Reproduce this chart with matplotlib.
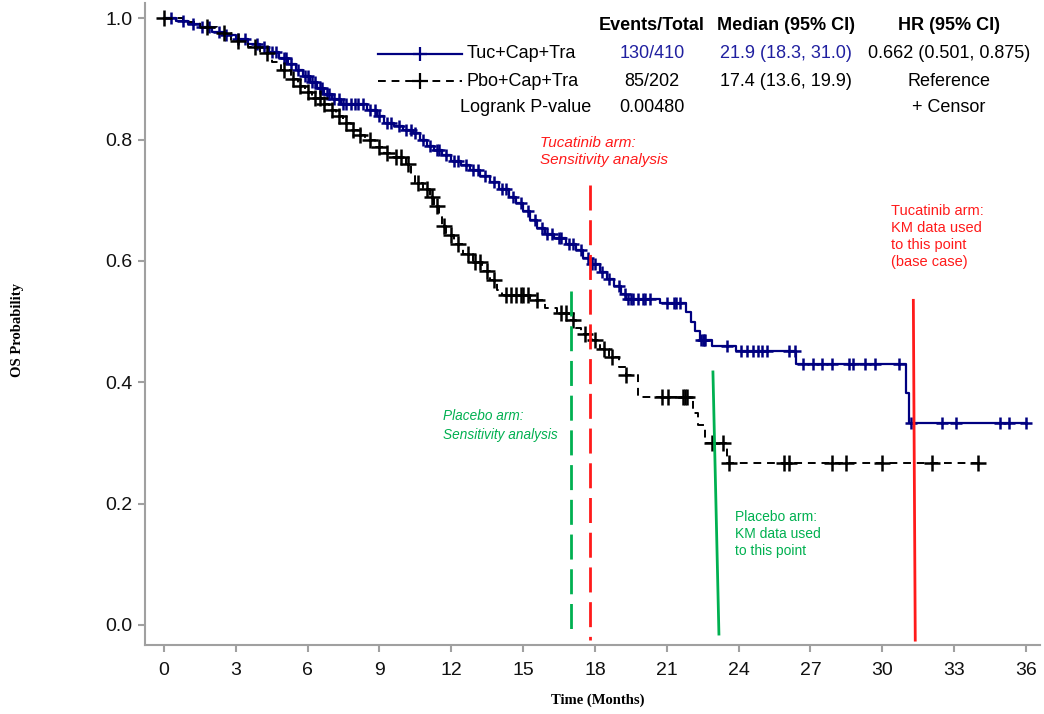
import numpy as np
import matplotlib
matplotlib.use("Agg")
import matplotlib.pyplot as plt
from matplotlib.lines import Line2D

# ---------------- data ----------------
tuc_times = [0, 0.5, 1.0, 1.5, 2.0, 2.5, 3.0, 3.5, 4.0, 4.4, 4.8, 5.2, 5.5, 5.8, 6.1, 6.4, 6.7, 7.0, 7.4,
             8.5, 8.9, 9.2, 9.6, 10.0, 10.4, 10.7, 11.0, 11.3, 11.6, 12.0, 12.4, 12.8, 13.2, 13.6, 14.0,
             14.4, 14.7, 15.0, 15.3, 15.6, 15.9, 16.3, 16.8, 17.2, 17.5, 17.8, 18.2, 18.5, 18.8, 19.1, 19.3,
             20.7, 21.8, 22.0, 22.2, 22.4, 22.9, 23.9, 26.4, 31.0, 31.1]
tuc_surv = [1.0, 0.995, 0.99, 0.985, 0.978, 0.972, 0.965, 0.958, 0.952, 0.945, 0.935, 0.925, 0.915, 0.905,
            0.895, 0.885, 0.875, 0.866, 0.858, 0.848, 0.838, 0.828, 0.822, 0.815, 0.810, 0.800, 0.790, 0.782,
            0.774, 0.765, 0.758, 0.750, 0.740, 0.730, 0.718, 0.705, 0.695, 0.682, 0.668, 0.655, 0.645, 0.638,
            0.628, 0.618, 0.605, 0.595, 0.582, 0.570, 0.558, 0.545, 0.537, 0.530, 0.515, 0.500, 0.484, 0.470,
            0.460, 0.451, 0.430, 0.382, 0.333]
tuc_end = 36.0
tuc_censor = [0.3, 0.8, 1.2, 1.6, 1.9, 2.3, 2.6, 3.1, 3.4, 3.9, 4.2, 4.5, 4.7, 5.0, 5.1, 5.3, 5.6, 5.9, 6.0,
              6.2, 6.3, 6.5, 6.6, 6.8, 6.9, 7.1, 7.3, 7.5, 7.6, 7.8, 8.0, 8.1, 8.3, 8.6, 8.8, 9.0, 9.3, 9.5,
              9.8, 10.1, 10.3, 10.5, 10.8, 11.1, 11.4, 11.5, 11.8, 12.1, 12.3, 12.6, 12.9, 13.1, 13.4, 13.8,
              14.1, 14.3, 14.6, 14.9, 15.2, 15.5, 15.8, 16.0, 16.2, 16.5, 16.6, 16.9, 17.1, 17.4, 17.7, 17.9,
              18.0, 18.3, 18.6, 19.0, 19.25, 19.4, 19.5, 19.6, 19.8, 20.0, 20.1, 20.3, 21.0, 21.3, 21.4, 21.55,
              22.45, 22.5, 22.55, 22.6, 23.5, 24.1, 24.35, 24.6, 24.8, 25.0, 25.2, 26.1, 26.35, 26.7, 27.1,
              27.5, 27.9, 28.6, 28.8, 29.3, 29.7, 30.7, 31.2, 32.5, 33.1, 34.9, 35.3, 36.0]

pbo_times = [0, 0.8, 1.5, 2.2, 2.8, 3.5, 4.0, 4.5, 4.9, 5.3, 5.6, 5.9, 6.2, 6.6, 6.9, 7.2, 7.5, 7.8, 8.1, 8.4,
             8.8, 9.2, 9.5, 10.1, 10.3, 10.5, 10.8, 11.1, 11.3, 11.5, 11.6, 11.8, 12.1, 12.5, 12.9, 13.3, 13.6,
             13.9, 14.1, 15.3, 15.9, 16.4, 16.9, 17.2, 17.4, 17.9, 18.2, 18.6, 19.0, 19.3, 19.8, 22.1, 22.3,
             22.6, 23.5]
pbo_surv = [1.0, 0.993, 0.985, 0.975, 0.962, 0.952, 0.942, 0.928, 0.914, 0.900, 0.888, 0.878, 0.868, 0.858,
            0.848, 0.838, 0.828, 0.815, 0.808, 0.800, 0.788, 0.778, 0.772, 0.760, 0.740, 0.728, 0.718, 0.705,
            0.690, 0.672, 0.658, 0.643, 0.628, 0.612, 0.598, 0.583, 0.568, 0.552, 0.544, 0.535, 0.522, 0.514,
            0.503, 0.490, 0.480, 0.470, 0.455, 0.442, 0.425, 0.412, 0.376, 0.350, 0.330, 0.300, 0.267]
pbo_end = 34.0
pbo_censor = [0.0, 1.8, 2.5, 3.1, 3.8, 4.3, 5.0, 5.4, 5.7, 6.0, 6.3, 6.5, 6.7, 7.0, 7.3, 7.6, 7.9, 8.2, 8.6,
              9.0, 9.3, 9.7, 9.9, 10.2, 10.6, 11.0, 11.2, 11.4, 11.7, 12.0, 12.3, 12.7, 13.0, 13.2, 13.5, 13.8,
              14.3, 14.5, 14.7, 14.9, 15.0, 15.2, 15.6, 16.6, 16.8, 17.1, 17.6, 18.0, 18.4, 18.7, 19.3, 20.8,
              21.05, 21.7, 21.75, 21.85, 22.9, 23.35, 23.6, 25.9, 26.1, 27.9, 28.5, 30.0, 32.1, 34.0]

x_ticks = [0, 3, 6, 9, 12, 15, 18, 21, 24, 27, 30, 33, 36]
y_ticks = [0.0, 0.2, 0.4, 0.6, 0.8, 1.0]

headers = ["Events/Total", "Median (95% CI)", "HR (95% CI)"]
arm_labels = ["Tuc+Cap+Tra", "Pbo+Cap+Tra"]
events = ["130/410", "85/202"]
medians = ["21.9 (18.3, 31.0)", "17.4 (13.6, 19.9)"]
hrs = ["0.662 (0.501, 0.875)", "Reference"]
logrank_p = "0.00480"

# ---------------- style ----------------
BLUE = "#000080"
RED = "#FF1A1A"
GREEN = "#00B050"
GRAY = "#A0A0A0"
plt.rcParams['font.family'] = ['Liberation Sans', 'DejaVu Sans']

fig = plt.figure(figsize=(10.44, 7.14), dpi=100)
W, H = 1044, 714
ax = fig.add_axes([145 / W, 1 - 645 / H, (1040 - 145) / W, (645 - 3) / H])


def surv_at(times, surv, t):
    idx = np.searchsorted(np.asarray(times), t, side='right') - 1
    return np.asarray(surv)[idx]


# Tucatinib curve
tt = list(tuc_times) + [tuc_end]
ss = list(tuc_surv) + [tuc_surv[-1]]
ax.step(tt, ss, where='post', color=BLUE, lw=1.6, zorder=3)
ax.plot(tuc_censor, surv_at(tuc_times, tuc_surv, tuc_censor), ls='none', marker='+',
        ms=8, mew=1.8, color=BLUE, zorder=4)

# Placebo curve
tp = list(pbo_times) + [pbo_end]
sp = list(pbo_surv) + [pbo_surv[-1]]
ax.step(tp, sp, where='post', color='black', lw=1.4, ls=(0, (4, 3)), zorder=3)
ax.plot(pbo_censor, surv_at(pbo_times, pbo_surv, pbo_censor), ls='none', marker='+',
        ms=11, mew=1.8, color='black', zorder=4)

# vertical reference lines
ax.plot([17.0, 17.0], [0.55, -0.015], color=GREEN, lw=2, ls=(0, (9, 3.5)), zorder=5)
ax.plot([17.8, 17.8], [0.725, -0.025], color=RED, lw=2, ls=(0, (9, 3.5)), zorder=5)
ax.plot([22.93, 23.18], [0.417, -0.015], color=GREEN, lw=2, zorder=5)
ax.plot([31.3, 31.38], [0.535, -0.025], color=RED, lw=2, zorder=5)

# annotations
ax.text(15.7, 0.806, "Tucatinib arm:\nSensitivity analysis", color=RED, style='italic',
        fontsize=11, va='top', ha='left', linespacing=1.3)
ax.text(30.35, 0.693, "Tucatinib arm:\nKM data used\nto this point\n(base case)", color=RED,
        fontsize=10.5, va='top', ha='left', linespacing=1.25)
ax.text(11.65, 0.356, "Placebo arm:\nSensitivity analysis", color=GREEN, style='italic',
        fontsize=9.8, va='top', ha='left', linespacing=1.45)
ax.text(23.85, 0.19, "Placebo arm:\nKM data used\nto this point", color=GREEN,
        fontsize=10, va='top', ha='left', linespacing=1.3)

# axes formatting
ax.set_xlim(-0.79, 36.59)
ax.set_ylim(-0.033, 1.025)
ax.set_xticks(x_ticks)
ax.set_xticklabels([str(v) for v in x_ticks])
ax.set_yticks(y_ticks)
ax.set_yticklabels([f"{v:.1f}" for v in y_ticks])
for s in ['top', 'right']:
    ax.spines[s].set_visible(False)
for s in ['left', 'bottom']:
    ax.spines[s].set_color(GRAY)
    ax.spines[s].set_linewidth(1.5)
ax.tick_params(axis='both', colors=GRAY, length=5, width=1.5, labelcolor='#111111', labelsize=14)
ax.tick_params(axis='x', pad=7)
ax.tick_params(axis='y', pad=4)

fig.text(598 / W, 1 - 700 / H, "Time (Months)", family='Liberation Serif', weight='bold',
         fontsize=10.5, ha='center', va='center')
fig.text(18 / W, 1 - 330 / H, "OS Probability", family='Liberation Serif', weight='bold',
         fontsize=10.5, ha='center', va='center', rotation=90)

# legend table
def ft(x, y, s, **kw):
    fig.text(x / W, 1 - y / H, s, va='center', fontsize=13, **kw)

ft(652, 26, headers[0], ha='center', weight='bold')
ft(786, 26, headers[1], ha='center', weight='bold')
ft(949, 26, headers[2], ha='center', weight='bold')

ft(467, 54, arm_labels[0], ha='left')
ft(652, 54, events[0], ha='center', color='#2020A0')
ft(786, 54, medians[0], ha='center', color='#2020A0')
ft(949, 54, hrs[0], ha='center')

ft(467, 81, arm_labels[1], ha='left')
ft(652, 81, events[1], ha='center')
ft(786, 81, medians[1], ha='center')
ft(949, 81, hrs[1], ha='center')

ft(591, 108, "Logrank P-value", ha='right')
ft(652, 108, logrank_p, ha='center')
ft(949, 108, "+ Censor", ha='center')

fig.add_artist(Line2D([378 / W, 462 / W], [1 - 54 / H, 1 - 54 / H], color=BLUE, lw=1.6))
fig.add_artist(Line2D([420 / W], [1 - 54 / H], color=BLUE, marker='+', ms=10, mew=1.6, ls='none'))
fig.add_artist(Line2D([378 / W, 462 / W], [1 - 81 / H, 1 - 81 / H], color='black', lw=1.4,
                      ls=(0, (4, 3))))
fig.add_artist(Line2D([420 / W], [1 - 81 / H], color='black', marker='+', ms=12, mew=1.6, ls='none'))

fig.savefig("out.png", dpi=100)
